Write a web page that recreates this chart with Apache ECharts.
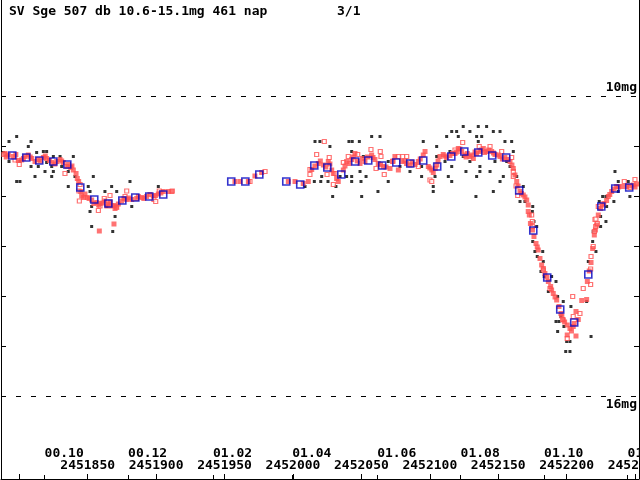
<!DOCTYPE html>
<html>
<head>
<meta charset="utf-8">
<script src="https://cdn.jsdelivr.net/npm/echarts@6/dist/echarts.min.js"></script>
<style>
  html, body { margin: 0; padding: 0; background: #fff; }
  #chart { width: 640px; height: 480px; }
</style>
</head>
<body>
<div id="chart"></div>
<script>
// x values are JD - 2450000, y values are magnitudes
var JD0 = 2450000;

// individual visual estimates (black dots)
var visual = [
  [1798.1,10.81],[1792.5,10.91],[1808.6,10.91],[1806.6,11.01],[1788.3,11.13],[1812.7,11.13],[1817.6,11.11],
  [1820.0,11.11],[1824.9,11.21],[1829.8,11.21],[1839.5,11.21],[1792.5,11.31],[1800.5,11.31],[1820.0,11.33],
  [1808.6,11.41],[1813.9,11.41],[1823.7,11.41],[1831.0,11.41],[1835.8,11.51],[1818.8,11.51],[1824.9,11.51],
  [1811.5,11.61],[1823.7,11.61],[1840.7,11.61],[1854.1,11.61],[1798.1,11.71],[1800.5,11.71],[1880.9,11.71],
  [1835.8,11.81],[1850.4,11.81],[1867.5,11.81],[1901.6,11.81],[1851.7,11.91],[1862.6,11.91],[1871.2,11.91],
  [1852.9,12.21],[1863.9,12.21],[1882.2,12.21],[1851.7,12.31],[1870.0,12.41],[1852.9,12.61],[1868.3,12.71],
  [2016.1,10.91],[2019.7,10.91],[2027.0,11.01],[2040.9,10.91],[2043.3,10.91],[2048.5,10.91],[2057.5,10.81],
  [2063.6,10.81],[2042.9,11.11],[2051.4,11.21],[2069.6,11.31],[2049.0,11.51],[2021.0,11.61],[2034.4,11.61],
  [2039.2,11.61],[2053.4,11.61],[2042.9,11.61],[2015.6,11.71],[2020.3,11.71],[2025.6,11.71],[2042.9,11.71],
  [2049.7,11.71],[2069.6,11.71],[2008.8,11.81],[2031.4,11.81],[2062.1,11.91],[2029.0,12.01],[2050.2,12.01],
  [2124.4,10.61],[2135.4,10.61],[2141.5,10.61],[2116.0,10.71],[2119.6,10.71],[2129.3,10.71],[2146.4,10.71],
  [2151.3,10.71],[2112.3,10.81],[2120.8,10.81],[2134.2,10.81],[2137.9,10.81],[2095.2,10.91],[2135.4,10.91],
  [2154.9,10.91],[2159.8,10.91],[2105.0,11.01],[2114.7,11.11],[2161.0,11.11],[2105.0,11.21],[2124.4,11.21],
  [2111.1,11.31],[2129.3,11.31],[2147.6,11.31],[2156.2,11.31],[2078.2,11.41],[2085.5,11.51],[2094.0,11.41],
  [2116.0,11.41],[2136.6,11.41],[2158.6,11.41],[2126.4,11.51],[2136.6,11.51],[2144.0,11.51],[2094.0,11.61],
  [2103.8,11.61],[2113.5,11.61],[2134.2,11.61],[2153.7,11.61],[2163.5,11.61],[2116.0,11.71],[2151.3,11.71],
  [2163.5,11.81],[2168.3,11.81],[2102.5,11.81],[2102.5,11.91],[2146.4,11.91],[2133.7,12.01],[2165.9,12.11],
  [2169.5,12.11],[2175.2,12.21],[2174.9,12.31],[2176.1,12.51],[2178.1,12.61],[2175.2,12.91],[2176.8,13.11],
  [2182.5,13.11],[2178.5,13.21],[2182.9,13.31],[2181.2,13.51],[2183.6,13.61],[2189.0,13.61],[2192.2,13.71],
  [2186.6,13.91],[2193.4,14.01],[2197.5,14.11],[2203.1,14.21],[2195.8,14.41],[2192.2,14.51],[2194.4,14.51],
  [2198.0,14.61],[2193.4,14.71],[2200.0,14.91],[2202.4,14.91],[2199.3,15.11],[2202.4,15.11],[2217.8,14.81],
  [2214.6,14.11],[2215.8,13.31],[2221.4,13.11],[2219.0,12.91],[2219.4,12.71],[2224.8,12.61],[2228.7,12.51],
  [2224.8,12.41],[2223.8,12.11],[2234.5,12.11],[2229.2,12.21],[2235.3,11.51],[2237.7,11.71],[2245.0,11.71],
  [2226.3,12.01],[2228.7,12.01],[2237.7,11.91],[2246.2,12.01]
];

// other observations (filled red squares)
var other = [
  [1789.6,11.15],[1792.0,11.18],[1795.6,11.21],[1799.3,11.29],[1801.8,11.28],[1804.2,11.21],[1806.6,11.18],
  [1809.1,11.25],[1811.5,11.31],[1813.9,11.27],[1817.6,11.23],[1820.0,11.25],[1823.7,11.33],[1827.4,11.31],
  [1829.8,11.27],[1832.2,11.33],[1834.7,11.41],[1837.6,11.43],[1839.5,11.48],[1841.5,11.55],[1842.4,11.65],
  [1843.4,11.71],[1844.9,11.91],[1845.6,12.00],[1848.0,11.96],[1849.7,12.03],[1852.9,12.08],[1856.6,12.13],
  [1859.0,12.15],[1862.6,12.10],[1865.1,12.16],[1867.5,12.20],[1870.0,12.25],[1872.4,12.16],[1874.8,12.10],
  [1878.5,12.07],[1882.2,12.07],[1885.8,12.05],[1889.5,12.03],[1893.1,12.01],[1897.9,12.00],[1901.6,11.96],
  [1905.2,11.91],[1908.9,11.91],[1911.4,11.91],[1869.2,12.56],[1858.5,12.70],
  [1790.5,11.22],[1797.5,11.17],[1803.0,11.25],[1808.0,11.22],[1815.5,11.30],[1819.0,11.20],[1822.0,11.29],
  [1826.0,11.36],[1831.0,11.30],[1836.0,11.37],[1838.5,11.40],
  [1847.0,12.03],[1851.0,12.05],[1854.5,12.15],[1858.0,12.18],[1861.0,12.14],[1864.0,12.20],[1866.5,12.12],
  [1869.0,12.19],[1871.0,12.21],[1876.5,12.05],[1880.0,12.04],[1887.0,12.01],[1891.0,12.05],[1895.5,11.97],
  [1899.5,11.99],[1903.5,11.94],
  [1957.6,11.71],[1961.3,11.71],[1967.4,11.71],[1972.2,11.60],[1977.1,11.53],[1996.6,11.71],[2001.5,11.71],
  [2007.5,11.75],[2011.2,11.71],[2013.7,11.47],[2018.5,11.35],[2022.2,11.38],[2025.8,11.31],[2028.3,11.48],
  [2029.5,11.55],[2031.9,11.65],[2033.1,11.71],[2036.8,11.48],[2039.2,11.31],[2042.9,11.27],[2045.3,11.15],
  [2049.0,11.35],[2052.6,11.31],[2057.5,11.18],[2059.9,11.27],[2062.3,11.35],[2066.0,11.41],[2070.9,11.45],
  [2074.5,11.21],[2077.0,11.48],
  [2016.0,11.40],[2020.0,11.30],[2024.0,11.42],[2027.0,11.36],[2038.0,11.40],[2041.0,11.35],[2044.0,11.22],
  [2047.0,11.30],[2050.8,11.25],[2054.5,11.22],[2058.5,11.23],[2064.0,11.37],[2068.0,11.42],[2073.0,11.30],
  [2079.4,11.31],[2081.8,11.30],[2085.5,11.38],[2089.2,11.37],[2091.6,11.31],
  [2095.2,11.18],[2096.5,11.11],[2098.9,11.41],[2101.4,11.48],[2102.5,11.53],[2105.0,11.38],[2107.4,11.21],
  [2109.8,11.17],[2112.3,11.23],[2114.7,11.19],[2118.4,11.15],[2120.8,11.05],[2123.3,11.11],[2125.7,11.18],
  [2127.4,11.15],[2129.3,11.21],[2131.8,11.25],[2134.2,11.15],[2136.6,11.11],[2139.1,11.05],[2141.5,11.11],
  [2145.2,11.11],[2147.6,11.17],[2151.3,11.21],[2154.9,11.23],[2158.6,11.31],[2161.0,11.45],[2162.2,11.58],
  [2083.0,11.35],[2087.0,11.32],[2093.0,11.26],[2100.0,11.44],[2104.0,11.45],[2106.0,11.30],[2111.0,11.20],
  [2116.5,11.15],[2119.5,11.12],[2122.0,11.06],[2126.5,11.22],[2130.5,11.18],[2133.0,11.12],[2137.5,11.08],
  [2140.0,11.13],[2143.0,11.08],[2146.5,11.14],[2150.0,11.18],[2153.0,11.26],[2157.0,11.27],[2160.0,11.38],
  [2163.5,11.71],[2165.9,11.91],[2168.3,11.98],[2170.8,12.08],[2171.9,12.18],[2171.9,12.31],[2172.7,12.38],
  [2176.1,12.81],[2177.6,12.95],[2179.2,13.08],[2180.5,13.25],[2181.7,13.38],[2184.1,13.55],[2186.6,13.71],
  [2188.3,13.81],[2190.2,13.95],[2192.7,14.08],[2194.4,14.21],[2195.8,14.35],[2197.5,14.48],[2200.4,14.58],
  [2202.4,14.65],[2204.8,14.61],[2200.4,14.78],[2206.8,14.80],[2206.8,14.31],[2208.5,14.47],[2211.0,14.09],
  [2214.6,14.07],[2215.1,13.71],[2217.8,13.33],[2220.2,12.78],[2221.9,12.58],[2223.1,12.38],[2224.8,12.25],
  [2227.2,12.15],[2229.2,12.09],[2230.4,12.01],[2232.9,11.91],[2236.5,11.81],[2240.2,11.81],[2243.8,11.81],
  [2248.6,11.78],[2251.1,11.76],
  [2164.5,11.80],[2167.0,11.95],[2169.5,12.02],[2173.5,12.55],[2175.0,12.68],[2178.5,13.02],[2183.0,13.45],
  [2185.5,13.62],[2189.0,13.88],[2191.5,14.02],[2196.5,14.40],[2198.5,14.52],[2203.5,14.70],[2205.5,14.55],
  [2216.5,13.50],[2219.0,13.05],[2221.0,12.68],[2226.0,12.18],[2231.5,11.97],[2234.5,11.86],[2238.0,11.82],
  [2246.0,11.80],[2250.0,11.82]
];

// other observations, open red squares
var otherOpen = [
  [1788.8,11.17],[1796.9,11.28],[1800.0,11.37],[1833.4,11.55],[1844.4,11.77],[1843.6,11.90],[1843.9,12.10],
  [1859.0,12.20],[1857.8,12.29],[1862.1,12.05],[1866.3,11.99],[1878.5,11.90],[1877.3,12.01],[1898.4,12.07],
  [1899.7,12.11],[1902.3,11.90],[1911.8,11.90],[1871.2,12.23],
  [1968.6,11.71],[1979.6,11.51],[2022.9,10.91],[2017.3,11.17],[2026.5,11.23],[2012.4,11.47],[2012.4,11.57],
  [2024.9,11.57],[2029.5,11.77],[2030.7,11.55],[2036.8,11.33],[2040.4,11.21],[2047.3,11.17],[2057.0,11.07],
  [2063.8,11.11],[2064.3,11.21],[2066.7,11.57],[2072.9,11.31],[2060.7,11.45],
  [2077.0,11.21],[2080.2,11.21],[2083.1,11.21],[2091.6,11.41],[2100.1,11.68],[2101.4,11.71],[2124.0,10.93],
  [2118.4,11.08],[2136.1,11.01],[2144.0,11.01],[2152.5,11.11],[2159.8,11.23],[2161.0,11.51],[2161.0,11.61],
  [2163.0,11.80],[2164.2,11.99],
  [2174.4,12.38],[2174.9,12.51],[2174.9,12.61],[2182.9,13.48],[2187.8,13.85],[2197.1,14.47],[2204.8,14.41],
  [2209.7,14.35],[2204.4,14.01],[2200.4,14.85],[2212.1,13.85],[2217.5,13.77],[2217.5,13.46],[2217.8,13.21],
  [2219.4,13.01],[2220.2,12.71],[2221.2,12.61],[2220.7,12.47],[2222.4,12.55],[2223.1,12.21],
  [2242.1,11.71],[2249.9,11.67],[2246.2,11.83],[2221.4,12.46]
];

// 10-day means (blue squares)
var means = [
  [1794.9,11.19],[1805.1,11.23],[1814.6,11.29],[1824.9,11.31],[1835.1,11.37],[1844.6,11.83],[1854.8,12.07],
  [1865.1,12.15],[1875.3,12.09],[1884.8,12.03],[1895.0,12.01],[1905.2,11.97],
  [1954.9,11.71],[1965.2,11.71],[1975.4,11.57],[1995.1,11.71],[2005.3,11.77],[2015.6,11.39],[2025.1,11.43],
  [2035.3,11.57],[2045.5,11.31],[2055.0,11.29],[2065.2,11.39],[2075.5,11.33],[2085.7,11.35],[2095.2,11.29],
  [2105.4,11.41],[2115.7,11.21],[2125.2,11.11],[2135.4,11.13],[2145.6,11.19],[2155.8,11.23],[2165.3,11.89],
  [2175.6,12.69],[2185.8,13.63],[2195.3,14.27],[2205.5,14.53],[2215.8,13.57],[2225.3,12.21],[2235.5,11.85],
  [2245.7,11.83]
];

var jdTicks = [1800, 1850, 1900, 1950, 2000, 2050, 2100, 2150, 2200, 2250];
var jdLabels = [1850, 1900, 1950, 2000, 2050, 2100, 2150, 2200, 2250];
var monthTicks = [1818.5, 1879.5, 1941.5, 1999.5, 2061.5, 2122.5, 2183.5, 2244.5];
var monthLabels = ['00.10', '00.12', '01.02', '01.04', '01.06', '01.08', '01.10', '01.12'];
var magTicks = [11, 12, 13, 14, 15];

var font = 'DejaVu Sans Mono';
var myChart = echarts.init(document.getElementById('chart'));

var xCommon = {
  type: 'value',
  min: 1786.65,
  max: 2252.85,
  splitLine: { show: false },
  axisLine: { onZero: false, lineStyle: { color: '#000', width: 1 } }
};
var yCommon = {
  type: 'value',
  inverse: true,
  min: 8.08,
  max: 17.66,
  splitLine: { show: false },
  axisLabel: { show: false },
  axisLine: { onZero: false, lineStyle: { color: '#000', width: 1 } },
  axisTick: { inside: true, length: 5, customValues: magTicks, lineStyle: { color: '#000' } }
};

var option = {
  animation: false,
  backgroundColor: '#fff',
  title: [
    {
      text: 'SV Sge 507 db 10.6-15.1mg 461 nap',
      left: 4, top: 0,
      textStyle: { fontFamily: font, fontWeight: 'bold', fontSize: 13, color: '#000' }
    },
    {
      text: '3/1',
      left: 332, top: 0,
      textStyle: { fontFamily: font, fontWeight: 'bold', fontSize: 13, color: '#000' }
    }
  ],
  grid: { left: 1, right: 1, top: 0, bottom: 1, outerBoundsMode: 'none', containLabel: false },
  xAxis: [
    Object.assign({}, xCommon, {
      position: 'bottom',
      axisTick: { inside: true, length: 5, customValues: jdTicks, lineStyle: { color: '#000' } },
      axisLabel: {
        inside: true, margin: 7, customValues: jdLabels, hideOverlap: false,
        fontFamily: font, fontWeight: 'bold', fontSize: 13, color: '#000',
        formatter: function (v) { return String(v + JD0); }
      }
    }),
    Object.assign({}, xCommon, {
      position: 'bottom',
      axisLine: { show: false },
      axisTick: { inside: true, length: 4, customValues: monthTicks, lineStyle: { color: '#000' } },
      axisLabel: {
        inside: true, margin: 19, customValues: monthTicks, align: 'left', hideOverlap: false,
        fontFamily: font, fontWeight: 'bold', fontSize: 13, color: '#000',
        formatter: function (v) { return monthLabels[monthTicks.indexOf(v)]; }
      }
    })
  ],
  yAxis: [
    Object.assign({}, yCommon, { position: 'left' }),
    Object.assign({}, yCommon, { position: 'right' })
  ],
  series: [
    {
      type: 'scatter', data: visual, symbol: 'rect', symbolSize: 3,
      itemStyle: { color: '#000' }
    },
    {
      type: 'scatter', data: otherOpen, symbol: 'rect', symbolSize: 4,
      itemStyle: { color: '#fff', borderColor: '#ff5050', borderWidth: 1.2 }
    },
    {
      type: 'scatter', data: other, symbol: 'rect', symbolSize: 5,
      itemStyle: { color: '#ff5050' }
    },
    {
      type: 'scatter', data: means, symbol: 'rect', symbolSize: 7,
      itemStyle: { color: 'rgba(0,0,0,0)', borderColor: '#0000c0', borderWidth: 1.6 },
      markLine: {
        silent: true,
        symbol: 'none',
        lineStyle: { color: '#000', width: 1, type: [5, 10] },
        label: { fontFamily: font, fontWeight: 'bold', fontSize: 13, color: '#000', distance: 2 },
        data: [
          { yAxis: 10, label: { position: 'insideEndTop', formatter: '10mg' } },
          { yAxis: 16, label: { position: 'insideEndBottom', formatter: '16mg' } }
        ]
      }
    }
  ]
};
myChart.setOption(option);
</script>
</body>
</html>
